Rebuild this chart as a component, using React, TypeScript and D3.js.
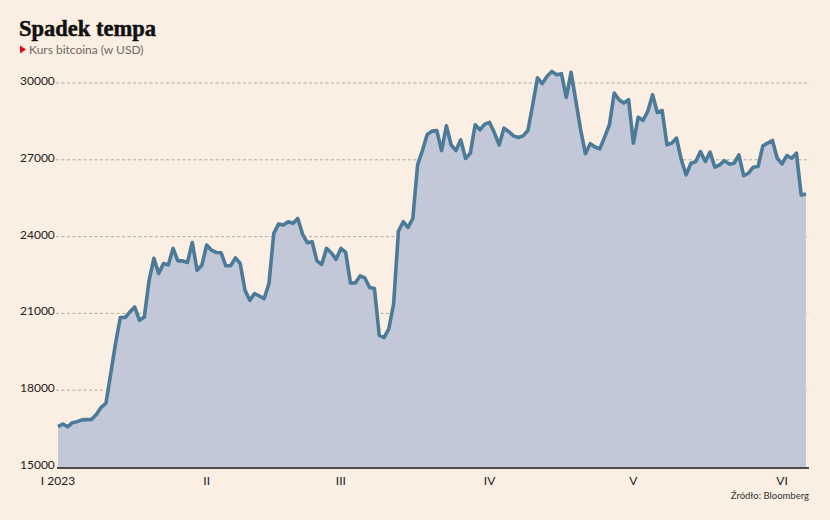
import * as d3 from "d3";

// Kurs bitcoina w USD, dzienne zamknięcia
const jan = [
  16580, 16680, 16570, 16730, 16770, 16840, 16850, 16860, 17050, 17330, 17490,
  18650, 19830, 20840, 20840, 21060, 21250, 20730, 20860, 22290, 23150, 22560,
  22950, 22890, 23540, 23050, 23050, 22990, 23770, 22690, 22880,
];
const feb = [
  23670, 23470, 23380, 23370, 22860, 22860, 23170, 22950, 21900, 21510, 21775,
  21680, 21580, 22170, 24125, 24490, 24450, 24580, 24515, 24710, 24100, 23760,
  23800, 23050, 22910, 23540, 23370, 23110,
];
const mar = [
  23540, 23380, 22190, 22190, 22465, 22385, 22010, 21970, 20140, 20050, 20400,
  21380, 24210, 24580, 24360, 24710, 26800, 27360, 27990, 28120, 28145, 27360,
  28330, 27580, 27360, 27780, 27050, 27260, 28370, 28170, 28395,
];
const apr = [
  28460, 28065, 27580, 28235, 28105, 27935, 27870, 27935, 28145, 29150, 30200,
  29975, 30265, 30450, 30325, 30365, 29440, 30415, 29300, 28170, 27240, 27630,
  27500, 27430, 27885, 28370, 29610, 29345, 29215, 29345,
];
const may = [
  27650, 28660, 28535, 28890, 29540, 28850, 28925, 27585, 27650, 27850, 27000,
  26410, 26865, 26930, 27320, 26930, 27300, 26710, 26800, 26970, 26830, 26865,
  27190, 26380, 26475, 26710, 26735, 27545, 27650, 27755, 27060,
];
const jun = [26840, 27165, 27060, 27260, 25625, 25665];

const monthLabels = ["I 2023", "II", "III", "IV", "V", "VI"];
const yTicks = [15000, 18000, 21000, 24000, 27000, 30000];

const values = [...jan, ...feb, ...mar, ...apr, ...may, ...jun];
const start = new Date(2023, 0, 1);
const data = values.map((v, i) => ({ date: d3.timeDay.offset(start, i), v }));

const W = 830;
const H = 520;

export default function App() {
  const x = d3
    .scaleTime()
    .domain([start, data[data.length - 1].date])
    .range([58, 806]);
  const y = d3.scaleLinear().domain([15000, 30000]).range([467, 83]);

  const area = d3
    .area<{ date: Date; v: number }>()
    .x((d) => x(d.date))
    .y0(y(15000))
    .y1((d) => y(d.v));
  const line = d3
    .line<{ date: Date; v: number }>()
    .x((d) => x(d.date))
    .y((d) => y(d.v));

  const monthStarts = monthLabels.map((_, i) => new Date(2023, i, 1));

  return (
    <svg
      width={W}
      height={H}
      style={{ position: "absolute", left: 0, top: 0, display: "block" }}
      fontFamily="Lato, sans-serif"
    >
      <rect width={W} height={H} fill="#fbeee2" />

      <text
        x={19}
        y={36}
        fontFamily="'Liberation Serif', serif"
        fontWeight="bold"
        fontSize={22.5}
        fill="#111"
        stroke="#111"
        strokeWidth={0.5}
      >
        Spadek tempa
      </text>
      <path d="M20,45.5 L26,49.5 L20,53.5 Z" fill="#e30613" />
      <text x={29} y={54} fontSize={12} fill="#6f6a66">
        Kurs bitcoina (w USD)
      </text>

      {/* siatka */}
      {yTicks
        .filter((t) => t !== 15000)
        .map((t) => (
          <line
            key={t}
            x1={56}
            x2={810}
            y1={y(t)}
            y2={y(t)}
            stroke="#b3aaa3"
            strokeWidth={1}
            strokeDasharray="3,2.5"
          />
        ))}

      <path d={area(data) ?? ""} fill="#c2c8d7" />
      <path
        d={line(data) ?? ""}
        fill="none"
        stroke="#4b7b98"
        strokeWidth={3.6}
        strokeLinejoin="round"
      />

      <line x1={57} x2={809} y1={468} y2={468} stroke="#4a4a4a" strokeWidth={2} />

      {yTicks.map((t) => (
        <text key={t} x={20} y={y(t) + 2} fontSize={12} fill="#222">
          {t}
        </text>
      ))}

      {monthStarts.map((d, i) => (
        <text
          key={i}
          x={x(d)}
          y={485}
          fontSize={12}
          textAnchor="middle"
          fill="#222"
        >
          {monthLabels[i]}
        </text>
      ))}

      <text x={809} y={499} fontSize={9.5} textAnchor="end" fill="#333">
        Źródło: Bloomberg
      </text>
    </svg>
  );
}
